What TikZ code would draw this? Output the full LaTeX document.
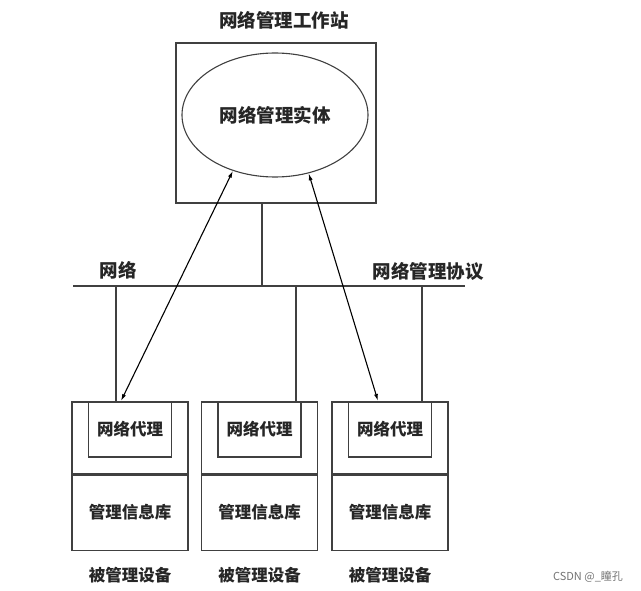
\documentclass[tikz,border=0pt]{standalone}
\usepackage{fontspec}
\usepackage{tikz}
\usetikzlibrary{arrows.meta,positioning,shapes.geometric,calc}
\newfontfamily\cjk{Noto Sans CJK SC}
\definecolor{linegray}{gray}{0.25}
\definecolor{markgray}{gray}{0.45}
\tikzset{
  boxline/.style={draw=linegray,line width=1.1pt},
  bigtext/.style={font=\cjk\bfseries\fontsize{18.5}{21}\selectfont,text=black!85},
  devtext/.style={font=\cjk\bfseries\fontsize{16.5}{19}\selectfont,text=black!85},
  msgarrow/.style={draw=black,line width=1.1pt,{Latex[length=7pt,width=4pt]}-{Latex[length=7pt,width=4pt]}}
}

\begin{document}
\begin{tikzpicture}[x=1pt,y=-1pt]
  % page size = reference image, 1 px = 1 pt, y grows downwards
  \useasboundingbox (0,0) rectangle (641,591);

  % workstation with its management entity
  \node[boxline,minimum width=200pt,minimum height=160pt] (ws) at (276,123) {};
  \node[bigtext] (wslabel) at (284,20) {网络管理工作站};
  \node[boxline,ellipse,minimum width=186pt,minimum height=124pt,bigtext] (entity) at (275,115) {网络管理实体};

  % network bus
  \coordinate (netL) at (73,286);
  \coordinate (netR) at (465,286);
  \coordinate (hub) at (262,286);
  \draw[boxline] (netL) -- (netR);
  \draw[boxline] (ws.south -| hub) -- (hub);
  \node[bigtext] (netlabel) at (118,270) {网络};
  \node[bigtext] (protolabel) at (428,271) {网络管理协议};

  % managed devices: agent part, MIB part, inner agent box, caption
  \foreach \n/\cx/\tap in {1/130/116, 2/259.5/296, 3/390/422} {
    \node[boxline,minimum width=116pt,minimum height=72pt] (dev\n) at (\cx,438) {};
    \node[boxline,minimum width=116pt,minimum height=75pt,anchor=north,devtext,inner sep=0pt] (mib\n) at (dev\n.south) {管理信息库};
    \node[boxline,minimum width=83pt,minimum height=55pt,anchor=north,devtext] (agent\n) at (dev\n.north) {网络代理};
    \node[devtext] (devlabel\n) at (\cx,575) {被管理设备};
    \coordinate (tap\n) at (\tap,286);
    \draw[boxline] (tap\n) -- (tap\n |- dev\n.north);
  }

  % management protocol exchange
  \coordinate (end1) at (121,401);
  \coordinate (end3) at (378,401);
  \draw[msgarrow] (entity.233) -- (end1);
  \draw[msgarrow] (entity.300) -- (end3);

  % watermark
  \node[font=\cjk\fontsize{11}{13}\selectfont,text=markgray] (mark) at (588,577) {CSDN @\_瞳孔};
\end{tikzpicture}
\end{document}
